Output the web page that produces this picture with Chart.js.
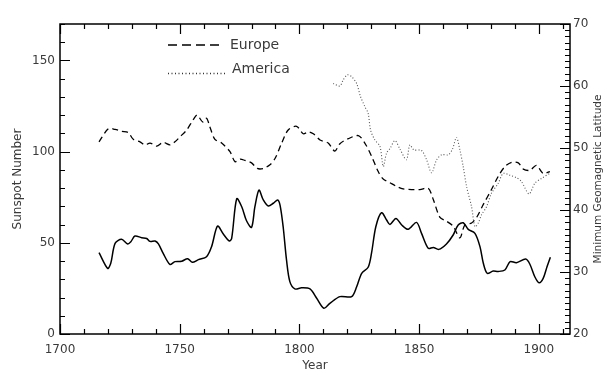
<!DOCTYPE html>
<html lang="en">
<head>
<meta charset="UTF-8">
<title>Sunspot Number and Minimum Geomagnetic Latitude</title>
<script src="https://cdn.jsdelivr.net/npm/chart.js"></script>
<style>
  html, body { margin: 0; padding: 0; background: #fff; }
  canvas { display: block; }
</style>
</head>
<body>
<canvas id="chart" width="611" height="383"></canvas>
<script>
// sunspot number (left axis)
const sunspotYears = [1716.3, 1719.9, 1721.2, 1723, 1725.7, 1728.3, 1729.6, 1731.3, 1734.1, 1736.2,
  1737.6, 1739.7, 1741.1, 1743.1, 1745.9, 1748, 1750.8, 1753.3, 1755.3, 1757.8,
  1761.2, 1763.3, 1765.8, 1768.2, 1770.7, 1771.7, 1773.8, 1775.9, 1777.9, 1780,
  1781.4, 1783.1, 1784.9, 1787, 1789.1, 1790.9, 1791.9, 1793.2, 1794.6, 1796,
  1798.1, 1800.9, 1804.4, 1807.2, 1810.2, 1812.7, 1816.9, 1821.8, 1823.9, 1826,
  1828.7, 1830.1, 1831.9, 1834.3, 1836.4, 1837.8, 1840.3, 1842.7, 1845.4, 1848.9,
  1851, 1853.8, 1855.9, 1858.2, 1861.4, 1864.2, 1866.3, 1868.4, 1870.5, 1873.3,
  1875.4, 1876.8, 1878.4, 1880.9, 1883, 1885.8, 1888, 1890.6, 1894.5, 1896.2,
  1898.3, 1900.1, 1901.8, 1903.4, 1904.8];
const sunspotValues = [44.6, 36.0, 38.8, 49.7, 51.9, 49.4, 50.6, 53.7, 52.8, 52.4,
  50.8, 51.0, 49.4, 44.2, 38.2, 39.7, 39.9, 41.3, 39.3, 40.8,
  42.4, 47.9, 59.2, 54.8, 51.0, 52.4, 74.2, 69.8, 62.1, 58.5,
  69.8, 78.9, 73.5, 70.2, 71.7, 73.5, 70.7, 58.8, 40.6, 28.7,
  24.7, 25.3, 24.7, 19.6, 14.1, 16.8, 20.5, 20.5, 25.9, 33.3,
  36.6, 44.3, 58.8, 66.5, 62.5, 60.1, 63.4, 59.8, 57.4, 61.2,
  55.2, 47.0, 47.5, 46.4, 49.4, 54.3, 59.8, 61.0, 57.4, 55.2,
  47.9, 38.8, 33.3, 34.5, 34.3, 35.1, 39.7, 39.1, 41.1, 38.4,
  31.4, 28.1, 30.5, 36.9, 42.1];

// minimum geomagnetic latitude, Europe (right axis)
const europeYears = [1716.3, 1720.2, 1723, 1725.7, 1728.5, 1730.6, 1733.4, 1735.5, 1737.6, 1740.4,
  1743.1, 1745.9, 1748, 1750.1, 1752.9, 1755.7, 1757.3, 1759.6, 1761.2, 1762.6,
  1764.7, 1767.5, 1771, 1773.1, 1775.2, 1777.2, 1780, 1782.4, 1784.9, 1787.7,
  1789.8, 1792.6, 1795.3, 1798.8, 1801.6, 1803.7, 1805.8, 1808.6, 1812, 1814.8,
  1816.9, 1820.4, 1824.6, 1827.3, 1830.1, 1832.9, 1835, 1837.8, 1840.6, 1843.3,
  1846.8, 1850.3, 1853.8, 1855.9, 1858.7, 1861.4, 1864.2, 1867, 1869.1, 1871.9,
  1874, 1876.8, 1880.2, 1883, 1885.8, 1888.6, 1891.4, 1893.5, 1896.2, 1899,
  1901.8, 1904.6];
const europeValues = [51.0, 53.1, 53.0, 52.7, 52.5, 51.4, 51.0, 50.5, 50.8, 50.3,
  50.9, 50.5, 51.0, 51.8, 52.9, 54.6, 55.3, 54.2, 54.8, 53.4,
  51.4, 50.8, 49.4, 47.8, 48.2, 48.0, 47.6, 46.7, 46.7, 47.3,
  48.3, 50.8, 52.9, 53.5, 52.3, 52.6, 52.3, 51.3, 50.8, 49.5,
  50.7, 51.5, 52.0, 50.8, 48.7, 46.2, 45.0, 44.4, 43.8, 43.4,
  43.3, 43.3, 43.5, 41.7, 38.8, 38.2, 37.4, 35.5, 37.6, 37.9,
  38.8, 40.9, 43.3, 45.4, 47.0, 47.7, 47.6, 46.6, 46.4, 47.2,
  45.9, 46.2];

// minimum geomagnetic latitude, America (right axis)
const americaYears = [1814.1, 1816.9, 1818.3, 1820, 1821.8, 1823.9, 1825.5, 1827.3, 1828.7, 1829.7,
  1831.5, 1833.6, 1835, 1836.4, 1837.8, 1839.9, 1842, 1844.7, 1846.1, 1847.8,
  1851, 1853.1, 1855.2, 1857.3, 1859.4, 1862.1, 1863.9, 1865.6, 1867, 1868.4,
  1869.8, 1871.9, 1873.3, 1874.7, 1876, 1878.1, 1880.2, 1883, 1885.1, 1887.9,
  1890.7, 1892.7, 1895.9, 1898.3, 1901.1, 1904.6];
const americaValues = [60.4, 60.0, 61.0, 61.8, 61.5, 60.4, 58.3, 56.7, 55.6, 52.9,
  51.3, 50.3, 47.0, 49.2, 49.9, 51.2, 49.8, 48.1, 50.5, 49.7,
  49.6, 48.1, 46.0, 48.1, 48.9, 48.9, 49.8, 51.7, 49.7, 47.0,
  43.8, 40.5, 37.3, 37.9, 39.2, 40.5, 42.7, 44.3, 45.9, 45.6,
  45.2, 44.6, 42.6, 44.3, 45.1, 45.9];

const textColor = '#3a3a3a';
const tickFont = { family: 'DejaVu Sans', size: 12 };

function pairs(xs, ys) {
  return xs.map((x, i) => ({ x: x, y: ys[i] }));
}

// frame, inward ticks, legend and right-hand title
const decor = {
  id: 'decor',
  afterDraw(chart) {
    const { ctx, chartArea: a } = chart;
    const { x, y, y1 } = chart.scales;
    ctx.save();
    ctx.strokeStyle = '#000';
    ctx.lineWidth = 1.5;
    ctx.strokeRect(a.left, a.top, a.right - a.left, a.bottom - a.top);

    ctx.lineWidth = 1.2;
    ctx.beginPath();
    for (let v = 1700; v <= 1913; v += 10) {
      const px = Math.round(x.getPixelForValue(v)) + 0.5;
      const len = v % 50 === 0 ? 10 : 5;
      ctx.moveTo(px, a.bottom); ctx.lineTo(px, a.bottom - len);
      ctx.moveTo(px, a.top); ctx.lineTo(px, a.top + len);
    }
    for (let v = 0; v <= 170; v += 10) {
      const py = Math.round(y.getPixelForValue(v)) + 0.5;
      const len = v % 50 === 0 ? 10 : 5;
      ctx.moveTo(a.left, py); ctx.lineTo(a.left + len, py);
    }
    for (let v = 20; v <= 70; v += 1) {
      const py = Math.round(y1.getPixelForValue(v)) + 0.5;
      const len = v % 10 === 0 ? 10 : 5;
      ctx.moveTo(a.right, py); ctx.lineTo(a.right - len, py);
    }
    ctx.stroke();

    // legend
    ctx.lineWidth = 1.3;
    ctx.strokeStyle = '#000';
    ctx.setLineDash([9, 5]);
    ctx.beginPath(); ctx.moveTo(168, 45); ctx.lineTo(222, 45); ctx.stroke();
    ctx.strokeStyle = '#333';
    ctx.setLineDash([1, 2.5]);
    ctx.beginPath(); ctx.moveTo(168, 73.5); ctx.lineTo(225, 73.5); ctx.stroke();
    ctx.setLineDash([]);
    ctx.fillStyle = textColor;
    ctx.font = '14px "DejaVu Sans"';
    ctx.textAlign = 'left';
    ctx.textBaseline = 'middle';
    ctx.fillText('Europe', 230, 45);
    ctx.fillText('America', 232, 69);

    // right axis title, reading bottom to top
    ctx.font = '10.5px "DejaVu Sans"';
    ctx.textAlign = 'center';
    ctx.translate(598, (a.top + a.bottom) / 2);
    ctx.rotate(-Math.PI / 2);
    ctx.fillText('Minimum Geomagnetic Latitude', 0, 0);
    ctx.restore();
  }
};

new Chart(document.getElementById('chart'), {
  type: 'line',
  data: {
    datasets: [{
      label: 'Sunspot Number',
      data: pairs(sunspotYears, sunspotValues),
      yAxisID: 'y',
      borderColor: '#000',
      borderWidth: 1.5,
      pointRadius: 0,
      tension: 0.3,
      fill: false
    }, {
      label: 'Europe',
      data: pairs(europeYears, europeValues),
      yAxisID: 'y1',
      borderColor: '#000',
      borderWidth: 1.3,
      borderDash: [6, 4],
      pointRadius: 0,
      tension: 0.3,
      fill: false
    }, {
      label: 'America',
      data: pairs(americaYears, americaValues),
      yAxisID: 'y1',
      borderColor: '#555',
      borderWidth: 1.1,
      borderDash: [1, 2],
      pointRadius: 0,
      tension: 0.3,
      fill: false
    }]
  },
  options: {
    responsive: false,
    animation: false,
    layout: { padding: { top: 24, left: 0, right: 0, bottom: 0 } },
    plugins: { legend: { display: false }, tooltip: { enabled: false } },
    scales: {
      x: {
        type: 'linear',
        min: 1700,
        max: 1913,
        border: { display: false },
        grid: { display: false, drawTicks: false },
        ticks: {
          stepSize: 50, includeBounds: false, autoSkip: false, maxRotation: 0,
          padding: 9, color: textColor, font: tickFont,
          callback: v => String(v)
        },
        title: { display: true, text: 'Year', color: textColor, font: tickFont, padding: { top: 0, bottom: 10 } },
        afterFit: s => { s.height = 49; }
      },
      y: {
        position: 'left',
        min: 0,
        max: 170,
        border: { display: false },
        grid: { display: false, drawTicks: false },
        ticks: {
          stepSize: 50, includeBounds: false, autoSkip: false,
          padding: 5, color: textColor, font: tickFont,
          callback: v => String(v)
        },
        title: { display: true, text: 'Sunspot Number', color: textColor, font: tickFont, padding: { top: 11, bottom: 0 } },
        afterFit: s => { s.width = 60; }
      },
      y1: {
        position: 'right',
        min: 20,
        max: 70,
        border: { display: false },
        grid: { display: false, drawTicks: false },
        ticks: {
          stepSize: 10, includeBounds: false, autoSkip: false,
          padding: 3, color: textColor, font: tickFont,
          callback: v => String(v)
        },
        afterFit: s => { s.width = 41; }
      }
    }
  },
  plugins: [decor]
});
</script>
</body>
</html>
